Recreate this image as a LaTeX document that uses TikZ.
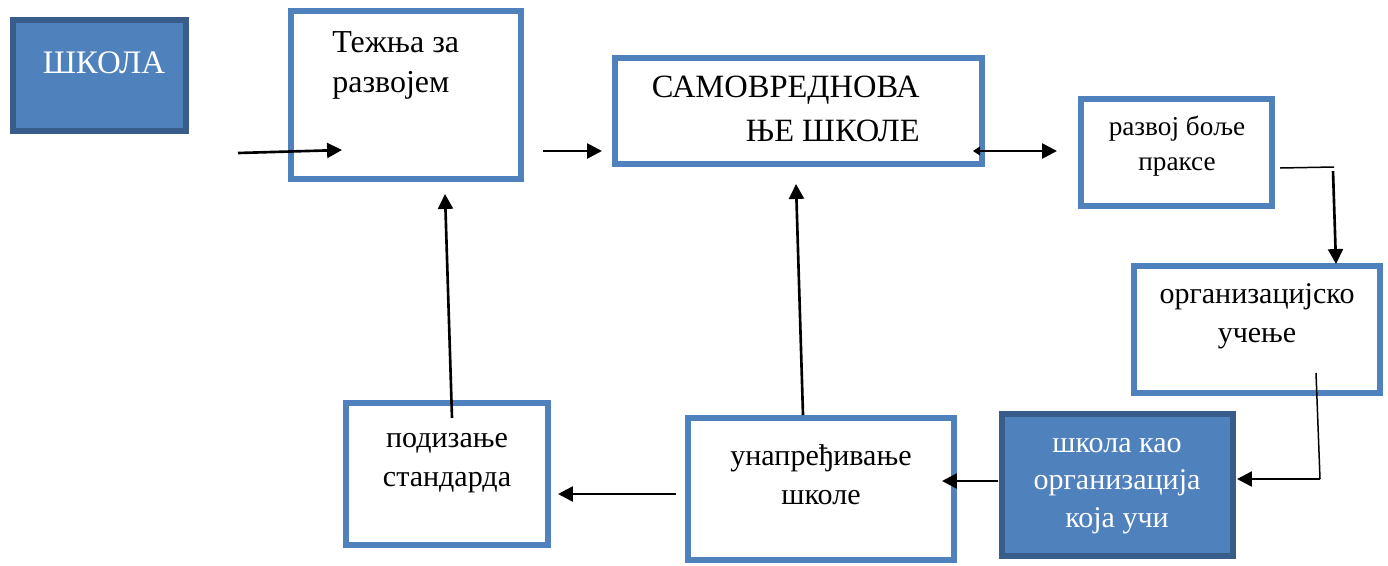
\documentclass[tikz,border=0pt]{standalone}
\usepackage{fontspec}
\setmainfont{Liberation Serif}
\usetikzlibrary{arrows.meta}
\definecolor{boxblue}{HTML}{4F81BD}
\definecolor{boxedge}{HTML}{385D8A}
\tikzset{
  whitebox/.style 2 args={draw=boxblue, line width=3.2pt, fill=white, inner sep=0pt, minimum width=#1, minimum height=#2},
  bluebox/.style 2 args={draw=boxedge, line width=3.4pt, fill=boxblue, inner sep=0pt, minimum width=#1, minimum height=#2},
  lbl/.style={text width=6cm, align=flush center, inner sep=0pt, anchor=base, font=\fontsize{17.1}{22.7}\selectfont},
  arr/.style={-{Triangle[length=8.5pt,width=8.5pt]}, line width=1.5pt},
  wire/.style={line width=0.85pt}
}
\begin{document}
\begin{tikzpicture}[x=0.02cm, y=-0.02cm]
      \useasboundingbox (0,0) rectangle (1388,565);
      \node[bluebox={3.46cm}{2.22cm}] (shkola) at (99.5,75.5) {};
      \node[whitebox={4.6cm}{3.36cm}] (tezhnja) at (406,95) {};
      \node[whitebox={7.34cm}{2.12cm}] (samo) at (798.5,111) {};
      \node[whitebox={3.82cm}{2.14cm}] (razvoj) at (1176.5,152.5) {};
      \node[whitebox={4.92cm}{2.54cm}] (ucenje) at (1257,329.5) {};
      \node[bluebox={4.62cm}{2.84cm}] (organiz) at (1117.5,485) {};
      \node[whitebox={5.32cm}{2.84cm}] (unapr) at (821,489) {};
      \node[whitebox={4.04cm}{2.84cm}] (podiz) at (447,474) {};

      \node[lbl, text=white, font=\fontsize{18.7}{22.7}\selectfont] (shkola-t) at (104,73) {ШКОЛА};
      \node[lbl, align=flush left, anchor=base west, font=\fontsize{18.2}{23.2}\selectfont] (tezhnja-t) at (332,52) {Тежња за\\развојем};
      \node[lbl, align=flush right, anchor=base east, font=\fontsize{18.5}{25.5}\selectfont] (samo-t) at (920,97) {САМОВРЕДНОВА\\ЊЕ ШКОЛЕ};
      \node[lbl, font=\fontsize{15.5}{20.4}\selectfont] (razvoj-t) at (1177,135) {развој боље\\праксе};
      \node[lbl] (ucenje-t) at (1257,303) {организацијско\\учење};
      \node[lbl, text=white, font=\fontsize{17.1}{21.5}\selectfont] (organiz-t) at (1117,452) {школа као\\организација\\која учи};
      \node[lbl] (unapr-t) at (821,465) {унапређивање\\школе};
      \node[lbl] (podiz-t) at (447,447) {подизање\\стандарда};

      \coordinate (in-a) at (238,153);
      \coordinate (in-b) at (342,150);
      \coordinate (t-out) at (543,151);
      \coordinate (s-in) at (602,151);
      \coordinate (s-out) at (973,151);
      \coordinate (r-in) at (1057,151);
      \coordinate (r-out) at (1280,168);
      \coordinate (r-turn) at (1334,167);
      \coordinate (r-drop) at (1333,171);
      \coordinate (u-top) at (1336,264);
      \coordinate (u-out) at (1316,373);
      \coordinate (o-turn) at (1320,479);
      \coordinate (o-in) at (1237,479);
      \coordinate (o-out) at (998,481);
      \coordinate (n-in) at (942,481);
      \coordinate (n-out) at (676,494);
      \coordinate (p-in) at (558,494);
      \coordinate (p-up) at (452,418);
      \coordinate (t-up) at (445,194);
      \coordinate (n-up) at (803,415);
      \coordinate (s-up) at (796,184);

      \begin{scope}[arr]
        \draw (in-a) to (in-b);
        \draw (t-out) to (s-in);
        \draw[{Triangle[length=4pt,width=5pt]}-{Triangle[length=8.5pt,width=8.5pt]}] (s-out) to (r-in);
        \draw (r-drop) to (u-top);
        \draw (o-turn) to (o-in);
        \draw (o-out) to (n-in);
        \draw (n-out) to (p-in);
        \draw (p-up) to (t-up);
        \draw (n-up) to (s-up);
      \end{scope}
      \draw[wire] (r-out) to (r-turn);
      \draw[wire] (u-out) to (o-turn);
\end{tikzpicture}
\end{document}
